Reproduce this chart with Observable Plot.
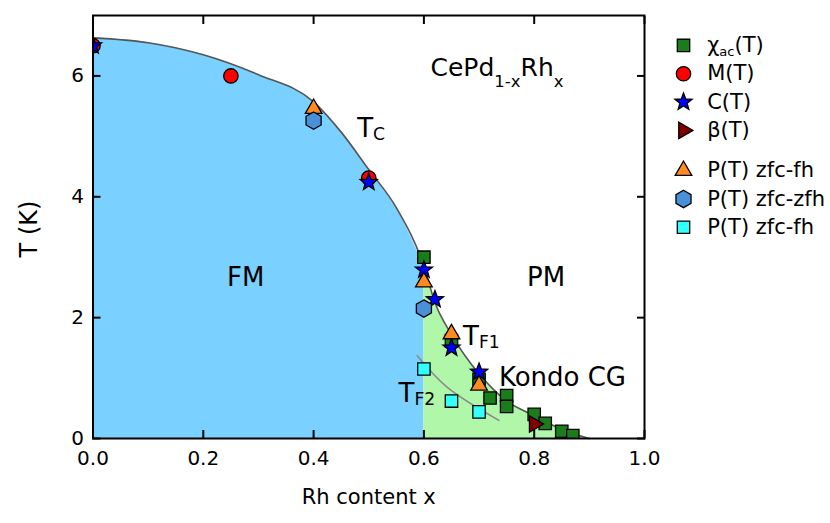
<!DOCTYPE html>
<html><head><meta charset="utf-8">
<script src="https://cdn.jsdelivr.net/npm/d3@7"></script>
<script src="https://cdn.jsdelivr.net/npm/@observablehq/plot@0.6"></script>
<style>
body{margin:0;background:#fff;}
#wrap{position:relative;width:830px;height:523px;font-family:"DejaVu Sans",sans-serif;}
#legend{position:absolute;left:660px;top:20px;}
</style></head><body><div id="wrap"></div>
<script>
// ---------- data ----------
const xTicks = [0, 0.2, 0.4, 0.6, 0.8, 1.0];
const yTicks = [0, 2, 4, 6];

// Tc phase boundary (guide curve)
const tcX = [0, 0.1, 0.2, 0.3, 0.4, 0.45, 0.5, 0.55, 0.6, 0.62, 0.65, 0.7, 0.75, 0.8, 0.85, 0.9];
const tcT = [6.63, 6.55, 6.35, 6.02, 5.57, 5.07, 4.45, 3.82, 2.85, 2.25, 1.72, 1.07, 0.62, 0.38, 0.15, 0.0];
// TF2 guide curve
const tf2X = [0.588, 0.642, 0.736];
const tf2T = [1.37, 0.85, 0.30];

// chi_ac(T)
const chiX = [0.6, 0.65, 0.7, 0.72, 0.75, 0.75, 0.8, 0.82, 0.85, 0.87];
const chiT = [3.0, 1.62, 0.98, 0.67, 0.71, 0.53, 0.40, 0.25, 0.12, 0.05];
// M(T)
const mX = [0, 0.25, 0.5];
const mT = [6.5, 6.0, 4.31];
// C(T)
const cX = [0, 0.5, 0.6, 0.62, 0.65, 0.7];
const cT = [6.5, 4.24, 2.79, 2.30, 1.50, 1.10];
// beta(T)
const bX = [0.8];
const bT = [0.24];
// P(T) zfc-fh (triangles)
const pfhX = [0.4, 0.6, 0.65, 0.7];
const pfhT = [5.46, 2.59, 1.73, 0.88];
// P(T) zfc-zfh (hexagons)
const pzX = [0.4, 0.6];
const pzT = [5.26, 2.15];
// P(T) zfc-fh (cyan squares, TF2)
const pcX = [0.6, 0.65, 0.7];
const pcT = [1.15, 0.62, 0.44];

// text labels
const regionLabels = ["FM", "PM", "Kondo CG"];
const regionX = [0.243, 0.787, 0.736];
const regionT = [2.66, 2.66, 1.01];
const tempLabels = ["T_C", "T_{F1}", "T_{F2}"];
const tempX = [0.479, 0.671, 0.554];
const tempT = [5.13, 1.68, 0.74];
const formulaLabel = ["CePd_{1-x}Rh_x"];
const formulaX = [0.612];
const formulaT = [6.13];
const xLabel = "Rh content x";
const yLabel = "T (K)";

const legendLabels = ["χ_{ac}(T)", "M(T)", "C(T)", "β(T)", "P(T) zfc-fh", "P(T) zfc-zfh", "P(T) zfc-fh"];

// ---------- symbols ----------
const R = s => Math.sqrt(s / Math.PI);
const symSquare = {draw(c, s){const r = R(s); c.rect(-r, -r, 2*r, 2*r);}};
const symCircle = {draw(c, s){const r = R(s); c.moveTo(r, 0); c.arc(0, 0, r, 0, 2*Math.PI);}};
const symStar = {draw(c, s){const o = R(s), in_ = o*0.42;
  for (let i = 0; i < 10; i++){const a = -Math.PI/2 + i*Math.PI/5, rr = i%2 ? in_ : o;
    const x = rr*Math.cos(a), y = rr*Math.sin(a); i ? c.lineTo(x, y) : c.moveTo(x, y);} c.closePath();}};
const symTriUp = {draw(c, s){const r = R(s); c.moveTo(0, -r); c.lineTo(r*0.866, r*0.5); c.lineTo(-r*0.866, r*0.5); c.closePath();}};
const symTriRight = {draw(c, s){const r = R(s); c.moveTo(r, 0); c.lineTo(-r*0.5, r*0.866); c.lineTo(-r*0.5, -r*0.866); c.closePath();}};
const symHex = {draw(c, s){const r = R(s);
  for (let i = 0; i < 6; i++){const a = -Math.PI/2 + i*Math.PI/3; const x = r*Math.cos(a), y = r*Math.sin(a); i ? c.lineTo(x, y) : c.moveTo(x, y);} c.closePath();}};

const series = [
  {X: chiX, T: chiT, symbol: symSquare, fill: "#1a7d1a", r: 6.2},
  {X: mX, T: mT, symbol: symCircle, fill: "#ff0000", r: 7.2},
  {X: cX, T: cT, symbol: symStar, fill: "#0000ff", r: 9},
  {X: pfhX, T: pfhT, symbol: symTriUp, fill: "#ff8a1f", r: 9.6},
  {X: pzX, T: pzT, symbol: symHex, fill: "#4a90d9", r: 8.7},
  {X: pcX, T: pcT, symbol: symSquare, fill: "#33ffff", r: 6.2},
  {X: bX, T: bT, symbol: symTriRight, fill: "#800000", r: 9.5}
];
// legend order
const legendSeries = [0, 1, 2, 6, 3, 4, 5].map(i => series[i]);

const zip = (X, T) => X.map((x, i) => ({x, T: T[i]}));
const tc = zip(tcX, tcT);
const tf2 = zip(tf2X, tf2T);
const blueFill = "#7ad0ff", greenFill = "#b0f7aa";
const FONT = '"DejaVu Sans",sans-serif';

const plot = Plot.plot({
  width: 830, height: 523,
  marginLeft: 92.5, marginRight: 186, marginTop: 15, marginBottom: 85,
  style: {fontFamily: FONT, fontSize: "20px", color: "black", background: "white", overflow: "visible"},
  x: {domain: [0, 1]},
  y: {domain: [0, 7]},
  marks: [
    Plot.areaY(tc.filter(d => d.x <= 0.6), {x: "x", y: "T", fill: blueFill, curve: "monotone-x"}),
    Plot.areaY(tc.filter(d => d.x >= 0.6), {x: "x", y: "T", fill: greenFill, curve: "monotone-x"}),
    Plot.line(tc, {x: "x", y: "T", stroke: "#555", strokeWidth: 1.6, curve: "monotone-x"}),
    Plot.line(tf2, {x: "x", y: "T", stroke: "#8c8c8c", strokeWidth: 1.6, curve: "catmull-rom"}),
    ...series.map(s => Plot.dot(zip(s.X, s.T), {x: "x", y: "T", symbol: s.symbol, r: s.r, fill: s.fill, stroke: "black", strokeWidth: 1.3, clip: true})),
    Plot.text(regionLabels, {x: (d, i) => regionX[i], y: (d, i) => regionT[i], text: d => d, textAnchor: "start", fontSize: 26}),
    Plot.text(tempLabels, {x: (d, i) => tempX[i], y: (d, i) => tempT[i], text: d => d, textAnchor: "start", fontSize: 26}),
    Plot.text(formulaLabel, {x: (d, i) => formulaX[i], y: (d, i) => formulaT[i], text: d => d, textAnchor: "start", fontSize: 25}),
    Plot.axisX({ticks: xTicks, tickFormat: d3.format(".1f"), tickSize: -8, tickPadding: 20, strokeWidth: 2, fontSize: 20, label: null}),
    Plot.axisX({anchor: "top", ticks: xTicks, tickSize: -8, tickFormat: () => "", strokeWidth: 2, label: null}),
    Plot.axisY({ticks: yTicks, tickFormat: d3.format("d"), tickSize: -8, tickPadding: 17, strokeWidth: 2, fontSize: 20, label: null}),
    Plot.axisY({anchor: "right", ticks: yTicks, tickSize: -8, tickFormat: () => "", strokeWidth: 2, label: null}),
    Plot.frame({stroke: "black", strokeWidth: 2}),
    Plot.text([xLabel], {frameAnchor: "bottom", textAnchor: "middle", lineAnchor: "middle", dy: 59, fontSize: 21}),
    Plot.text([yLabel], {frameAnchor: "left", textAnchor: "middle", lineAnchor: "middle", rotate: -90, dx: -64, dy: 2, fontSize: 24})
  ]
});

const legendPos = legendLabels.map((d, i) => i + (i >= 4 ? 0.42 : 0));
const legend = Plot.plot({
  width: 170, height: 230, margin: 0,
  style: {fontFamily: FONT, fontSize: "21px", color: "black", background: "transparent", overflow: "visible"},
  x: {domain: [0, 170], axis: null},
  y: {domain: [-0.88, 7.24], reverse: true, axis: null},
  marks: [
    ...legendSeries.map((s, i) => Plot.dot([legendPos[i]], {x: 23, y: d => d, symbol: s.symbol, r: s.r, fill: s.fill, stroke: "black", strokeWidth: 1.3})),
    Plot.text(legendLabels, {x: 46.7, y: (d, i) => legendPos[i], text: d => d, textAnchor: "start", fontSize: 21})
  ]
});

const wrap = document.getElementById("wrap");
wrap.appendChild(plot);
const lg = document.createElement("div"); lg.id = "legend"; lg.appendChild(legend); wrap.appendChild(lg);

// subscript rendering: "_{..}" or "_c"
function richify(root, labels, subScale, shiftEm){
  root.querySelectorAll("text").forEach(el => {
    const s = el.textContent; if (!labels.includes(s) || !s.includes("_")) return;
    const fs = parseFloat(getComputedStyle(el).fontSize);
    const re = /_\{([^}]*)\}|_(.)/g; const parts = []; let last = 0, m;
    while ((m = re.exec(s))){ if (m.index > last) parts.push([s.slice(last, m.index), false]); parts.push([m[1] ?? m[2], true]); last = re.lastIndex; }
    if (last < s.length) parts.push([s.slice(last), false]);
    el.textContent = "";
    let cur = 0;
    parts.forEach(([txt, sub]) => {
      const ts = document.createElementNS("http://www.w3.org/2000/svg", "tspan");
      const target = sub ? shiftEm * fs : 0;
      if (target !== cur) ts.setAttribute("dy", target - cur);
      cur = target;
      if (sub) ts.setAttribute("font-size", fs * subScale);
      ts.textContent = txt; el.appendChild(ts);
    });
  });
}
richify(plot, tempLabels, 0.66, 0.12);
richify(plot, formulaLabel, 0.66, 0.45);
richify(legend, legendLabels, 0.62, 0.2);
</script></body></html>
